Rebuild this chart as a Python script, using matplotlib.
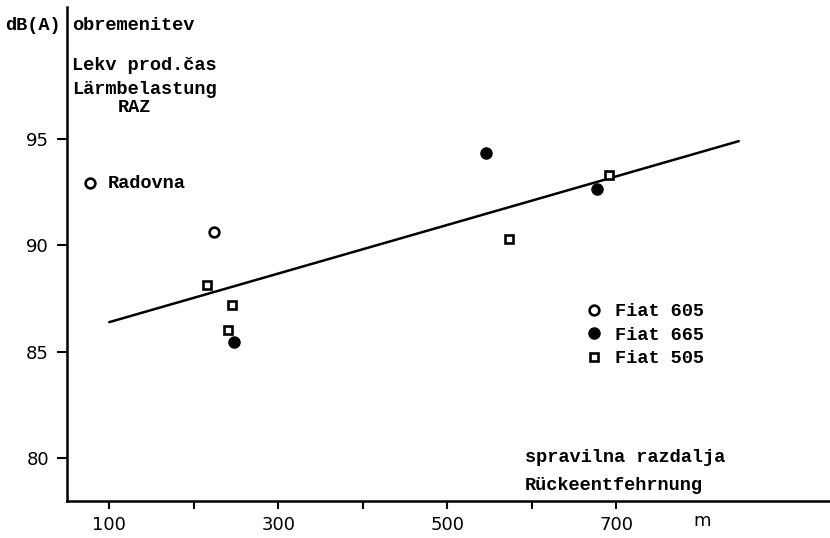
import numpy as np
import matplotlib
matplotlib.use("Agg")
import matplotlib.pyplot as plt

# values (distance in m, level in dB(A))
fiat605_x = [77, 224]
fiat605_y = [92.95, 90.65]
fiat665_x = [546, 248, 677]
fiat665_y = [94.35, 85.45, 92.65]
fiat505_x = [216, 245, 240, 573, 692]
fiat505_y = [88.15, 87.2, 86.05, 90.3, 93.3]
fit_x = [100, 845]
fit_y = [86.4, 94.9]

xticks = [100, 200, 300, 400, 500, 600, 700]
xticklabels = ["100", "", "300", "", "500", "", "700"]
yticks = [80, 85, 90, 95]

W, H = 830, 538
MONO = ["Liberation Mono", "DejaVu Sans Mono"]
FS = 13.4
WT = "bold"
TICK_FS = 13


def px(x, y):
    return x / W, 1 - y / H


fig = plt.figure(figsize=(W / 100, H / 100), dpi=100)
ax = fig.add_axes([67 / W, (H - 501) / H, 1 - 67 / W, (501 - 7) / H])

ax.plot(fit_x, fit_y, color="black", lw=1.8, solid_capstyle="round")
ax.plot(fiat605_x, fiat605_y, ls="none", marker="o", ms=7, mfc="white",
        mec="black", mew=1.9, label="Fiat 605")
ax.plot(fiat665_x, fiat665_y, ls="none", marker="o", ms=8, mfc="black",
        mec="black", label="Fiat 665")
ax.plot(fiat505_x, fiat505_y, ls="none", marker="s", ms=6.3, mfc="white",
        mec="black", mew=1.9, label="Fiat 505")

ax.set_xlim(50, 953)
ax.set_ylim(78, 101.2)
ax.set_xticks(xticks)
ax.set_xticklabels(xticklabels)
ax.set_yticks(yticks)
ax.tick_params(axis="both", direction="out", width=1.5, colors="black",
               labelsize=TICK_FS)
ax.tick_params(axis="x", length=6, pad=5)
ax.tick_params(axis="y", length=7, pad=6)
for s in ("top", "right"):
    ax.spines[s].set_visible(False)
for s in ("left", "bottom"):
    ax.spines[s].set_linewidth(1.8)

leg = ax.legend(loc="upper left", bbox_to_anchor=px(585, 303),
                bbox_transform=fig.transFigure, frameon=False,
                handlelength=1.0, handletextpad=0.62, borderpad=0,
                borderaxespad=0, labelspacing=0.36,
                prop={"family": MONO, "size": FS, "weight": WT})

fig.text(*px(61, 25), "dB(A)", ha="right", va="center", family=MONO,
         fontsize=FS, weight=WT)
fig.text(*px(72, 25), "obremenitev", va="center", family=MONO, fontsize=FS, weight=WT)
fig.text(*px(72, 65), "Lekv prod.čas", va="center", family=MONO, fontsize=FS, weight=WT)
fig.text(*px(72, 89), "Lärmbelastung", va="center", family=MONO, fontsize=FS, weight=WT)
fig.text(*px(118, 108), "RAZ", va="center", family=MONO, fontsize=FS, weight=WT)
fig.text(*px(108, 183), "Radovna", va="center", family=MONO, fontsize=FS, weight=WT)
fig.text(*px(525, 458), "spravilna razdalja", va="center", family=MONO,
         fontsize=FS, weight=WT)
fig.text(*px(525, 485), "Rückeentfehrnung", va="center", family=MONO,
         fontsize=FS, weight=WT)
fig.text(*px(702, 521), "m", ha="center", va="center", fontsize=TICK_FS)

fig.savefig("out.png", dpi=100)
